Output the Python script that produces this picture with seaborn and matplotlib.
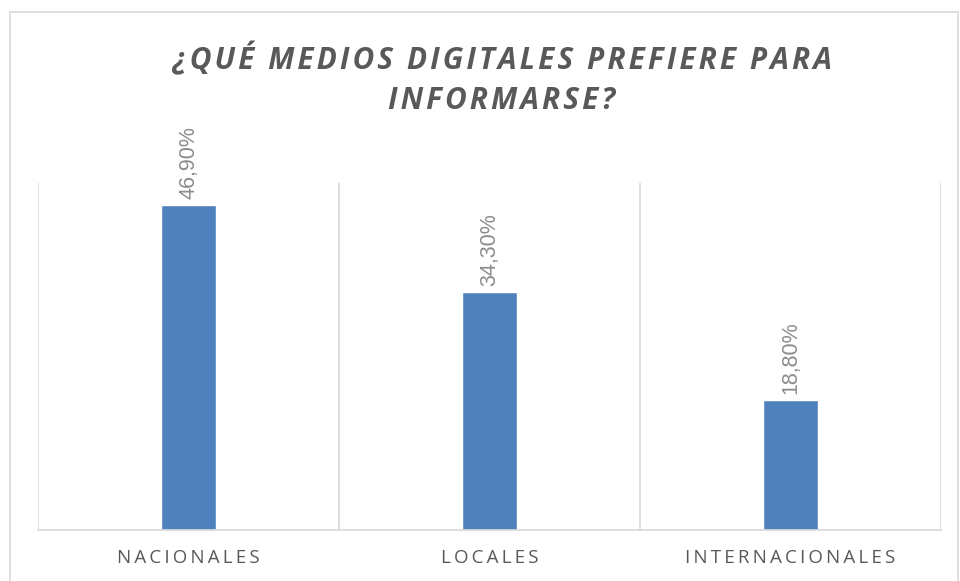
import matplotlib.pyplot as plt
import seaborn as sns
import pandas as pd
from matplotlib.patches import Rectangle

categories = ["NACIONALES", "LOCALES", "INTERNACIONALES"]
values = [46.9, 34.3, 18.8]
labels = ["46,90%", "34,30%", "18,80%"]
title_lines = ["¿QUÉ MEDIOS DIGITALES PREFIERE PARA", "INFORMARSE?"]

sns.set_theme(style="white")
plt.rcParams["font.family"] = ["Open Sans", "DejaVu Sans"]


def spaced(s, sep="\u2009"):
    # crude letter spacing
    return sep.join(s)


df = pd.DataFrame({"cat": categories, "val": values})

fig = plt.figure(figsize=(9.6, 5.81), dpi=100)
ax = fig.add_axes([38 / 960, 51 / 581, 903 / 960, 347 / 581])

sns.barplot(data=df, x="cat", y="val", color="#4F81BD", width=0.18,
            saturation=1, ax=ax)

ax.set_ylim(0, 50)
ax.set_xlim(-0.5, 2.5)
ax.set_yticks([])
ax.set_xlabel(""); ax.set_ylabel("")

# vertical separators between categories
for x in [-0.5, 0.5, 1.5, 2.5]:
    ax.axvline(x, color="#D9D9D9", lw=1.2, zorder=0)
for s in ["top", "left", "right"]:
    ax.spines[s].set_visible(False)
ax.spines["bottom"].set_color("#D9D9D9")
ax.spines["bottom"].set_linewidth(1.2)

ax.set_xticks(range(len(categories)))
ax.set_xticklabels([spaced(c) for c in categories], fontsize=13.5,
                   color="#595959")
ax.tick_params(axis="x", length=0, pad=14)

for i, (v, lab) in enumerate(zip(values, labels)):
    ax.annotate(lab, (i, v), xytext=(0, 4), textcoords="offset points",
                rotation=90, ha="center", va="bottom", fontsize=15.5,
                color="#8C8C8C", family=["Liberation Sans", "DejaVu Sans"])

title = "\n".join(spaced(line, "\u200a") for line in title_lines)
fig.text(502 / 960, 1 - 79 / 581, title, ha="center", va="center",
         fontsize=21.5, fontweight="bold", fontstyle="italic",
         color="#595959", linespacing=1.45)

fig.patches.append(Rectangle((10 / 960, -0.01), 948 / 960, 1 - 12 / 581 + 0.01,
                             transform=fig.transFigure, fill=False,
                             edgecolor="#D9D9D9", lw=1.2))

fig.savefig("out.png", dpi=100, facecolor="white")
